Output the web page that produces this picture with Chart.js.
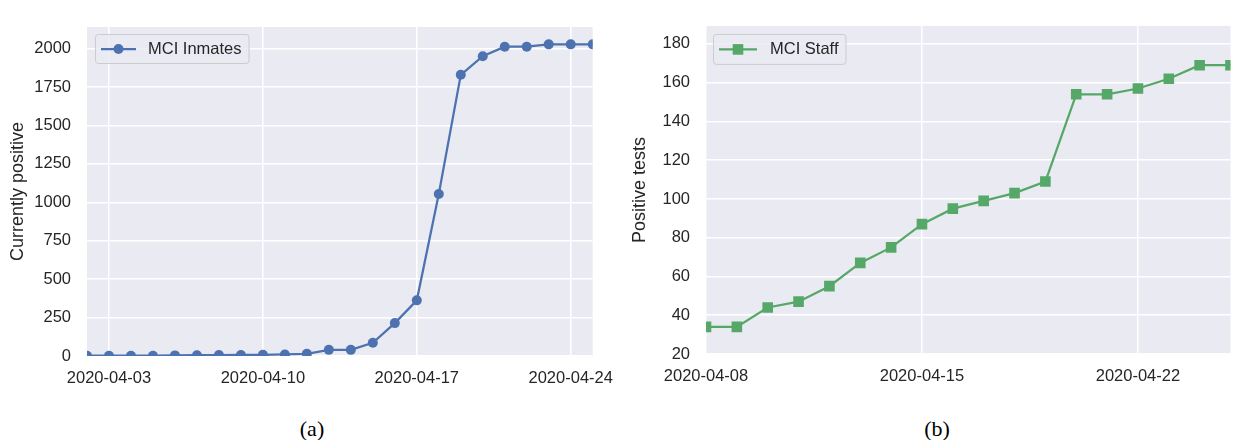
<!DOCTYPE html>
<html><head><meta charset="utf-8">
<script src="https://cdn.jsdelivr.net/npm/chart.js@4.4.1/dist/chart.umd.min.js"></script>
<style>
html,body{margin:0;padding:0;background:#fff;width:1238px;height:440px;overflow:hidden;position:relative}
#c1{position:absolute;left:0;top:0}
#c2{position:absolute;left:620px;top:0}
.cap{position:absolute;font-family:"Liberation Serif","DejaVu Serif",serif;font-size:22px;color:#000;transform:translate(-50%,-50%);white-space:nowrap}
</style></head><body>
<canvas id="c1" width="640" height="400" style="width:640px;height:400px"></canvas>
<canvas id="c2" width="618" height="400" style="width:618px;height:400px"></canvas>
<div class="cap" style="left:312px;top:429px">(a)</div>
<div class="cap" style="left:937px;top:429px">(b)</div>
<script>
// ---- data ----
const inmateDates = ['2020-04-02','2020-04-03','2020-04-04','2020-04-05','2020-04-06','2020-04-07','2020-04-08','2020-04-09','2020-04-10','2020-04-11','2020-04-12','2020-04-13','2020-04-14','2020-04-15','2020-04-16','2020-04-17','2020-04-18','2020-04-19','2020-04-20','2020-04-21','2020-04-22','2020-04-23','2020-04-24','2020-04-25'];
const inmateValues = [2, 2, 2, 2, 4, 5, 6, 7, 8, 10, 14, 40, 40, 86, 214, 362, 1054, 1829, 1950, 2012, 2012, 2027, 2027, 2027];
const inmateTicks = ['2020-04-03','2020-04-10','2020-04-17','2020-04-24'];
const inmateYTicks = [0, 250, 500, 750, 1000, 1250, 1500, 1750, 2000];

const staffDates = ['2020-04-08','2020-04-09','2020-04-10','2020-04-11','2020-04-12','2020-04-13','2020-04-14','2020-04-15','2020-04-16','2020-04-17','2020-04-18','2020-04-19','2020-04-20','2020-04-21','2020-04-22','2020-04-23','2020-04-24','2020-04-25'];
const staffValues = [34, 34, 44, 47, 55, 67, 75, 87, 95, 99, 103, 109, 154, 154, 157, 162, 169, 169];
const staffTicks = ['2020-04-08','2020-04-15','2020-04-22'];
const staffYTicks = [20, 40, 60, 80, 100, 120, 140, 160, 180];

// ---- styling ----
const FONT = '"Liberation Sans", Arial, Helvetica, sans-serif';
const TEXT = '#262626';
Chart.defaults.font.family = FONT;
Chart.defaults.color = TEXT;

const bgPlugin = {
  id: 'bg',
  beforeDraw(chart) {
    const {ctx, chartArea: a} = chart;
    ctx.save();
    ctx.fillStyle = '#EAEAF2';
    ctx.fillRect(a.left, a.top, a.right - a.left, a.bottom - a.top);
    ctx.restore();
  }
};

const legendPlugin = {
  id: 'mplLegend',
  afterDraw(chart, args, opts) {
    const ds = chart.data.datasets[0];
    const {ctx, chartArea: a} = chart;
    ctx.save();
    ctx.font = '16.5px ' + FONT;
    const tw = ctx.measureText(ds.label).width;
    const x0 = a.left + opts.dx, y0 = a.top + opts.dy, h = opts.h;
    const w = opts.textX + tw + 7;
    ctx.beginPath();
    if (ctx.roundRect) ctx.roundRect(x0 + 0.5, y0 + 0.5, w, h, 3); else ctx.rect(x0 + 0.5, y0 + 0.5, w, h);
    ctx.fillStyle = 'rgba(234,234,242,0.8)';
    ctx.fill();
    ctx.strokeStyle = '#cccccc';
    ctx.lineWidth = 1;
    ctx.stroke();
    const cy = y0 + h / 2 + 0.5;
    ctx.strokeStyle = ds.borderColor;
    ctx.lineWidth = ds.borderWidth;
    ctx.beginPath();
    ctx.moveTo(x0 + 6, cy);
    ctx.lineTo(x0 + opts.lineEnd, cy);
    ctx.stroke();
    const mx = x0 + (6 + opts.lineEnd) / 2;
    ctx.fillStyle = ds.backgroundColor;
    ctx.beginPath();
    if (ds.pointStyle === 'rect') {
      const s = ds.pointRadius * Math.SQRT1_2;
      ctx.rect(mx - s, cy - s, 2 * s, 2 * s);
    } else {
      ctx.arc(mx, cy, ds.pointRadius, 0, Math.PI * 2);
    }
    ctx.fill();
    ctx.fillStyle = TEXT;
    ctx.textBaseline = 'middle';
    ctx.textAlign = 'left';
    ctx.fillText(ds.label, x0 + opts.textX, cy);
    ctx.restore();
  }
};

function makeChart(id, cfg) {
  const pts = cfg.values.map((v, i) => ({x: i, y: v}));
  return new Chart(document.getElementById(id), {
    type: 'line',
    data: {
      datasets: [{
        label: cfg.label,
        data: pts,
        borderColor: cfg.color,
        backgroundColor: cfg.color,
        borderWidth: 2.25,
        pointStyle: cfg.pointStyle,
        pointRadius: cfg.pointRadius,
        pointHoverRadius: cfg.pointRadius,
        pointBorderWidth: 0,
        tension: 0,
        clip: 0
      }]
    },
    options: {
      responsive: false,
      animation: false,
      events: [],
      layout: {padding: cfg.padding},
      plugins: {
        legend: {display: false},
        tooltip: {enabled: false},
        mplLegend: cfg.legend
      },
      scales: {
        x: {
          type: 'linear',
          min: 0,
          max: cfg.dates.length - 1,
          afterBuildTicks(s) { s.ticks = cfg.ticks.map(d => ({value: cfg.dates.indexOf(d)})); },
          ticks: {
            callback: (v) => cfg.dates[v],
            padding: 13,
            maxRotation: 0,
            autoSkip: false,
            color: TEXT,
            font: {size: 16.5}
          },
          grid: {color: '#ffffff', lineWidth: 1.5, drawTicks: false},
          border: {display: false},
          afterFit(s) { s.height = cfg.xHeight; }
        },
        y: {
          min: cfg.yMin,
          max: cfg.yMax,
          afterBuildTicks(s) { s.ticks = cfg.yTicks.map(v => ({value: v})); },
          ticks: {padding: 16, color: TEXT, font: {size: 16.5}, callback: (v) => String(v)},
          grid: {color: '#ffffff', lineWidth: 1.5, drawTicks: false},
          border: {display: false},
          title: {display: true, text: cfg.yTitle, color: TEXT, font: {size: 18}, padding: {top: cfg.titlePad, bottom: 0}},
          afterFit(s) { s.width = cfg.yWidth; }
        }
      }
    },
    plugins: [bgPlugin, legendPlugin]
  });
}

makeChart('c1', {
  label: 'MCI Inmates', dates: inmateDates, values: inmateValues, ticks: inmateTicks, yTicks: inmateYTicks,
  color: '#4C72B0', pointStyle: 'circle', pointRadius: 5,
  yMin: 0, yMax: 2140, yTitle: 'Currently positive', titlePad: 7,
  padding: {left: 0, top: 27, right: 47.3, bottom: 0}, xHeight: 44, yWidth: 87,
  legend: {dx: 8, dy: 7, h: 29, lineEnd: 41, textX: 53}
});

makeChart('c2', {
  label: 'MCI Staff', dates: staffDates, values: staffValues, ticks: staffTicks, yTicks: staffYTicks,
  color: '#55A868', pointStyle: 'rect', pointRadius: 7.5,
  yMin: 20, yMax: 189.3, yTitle: 'Positive tests', titlePad: 9,
  padding: {left: 0, top: 7, right: 1, bottom: 0}, xHeight: 46, yWidth: 86,
  legend: {dx: 7, dy: 8, h: 30, lineEnd: 44, textX: 57}
});
</script>
</body></html>
